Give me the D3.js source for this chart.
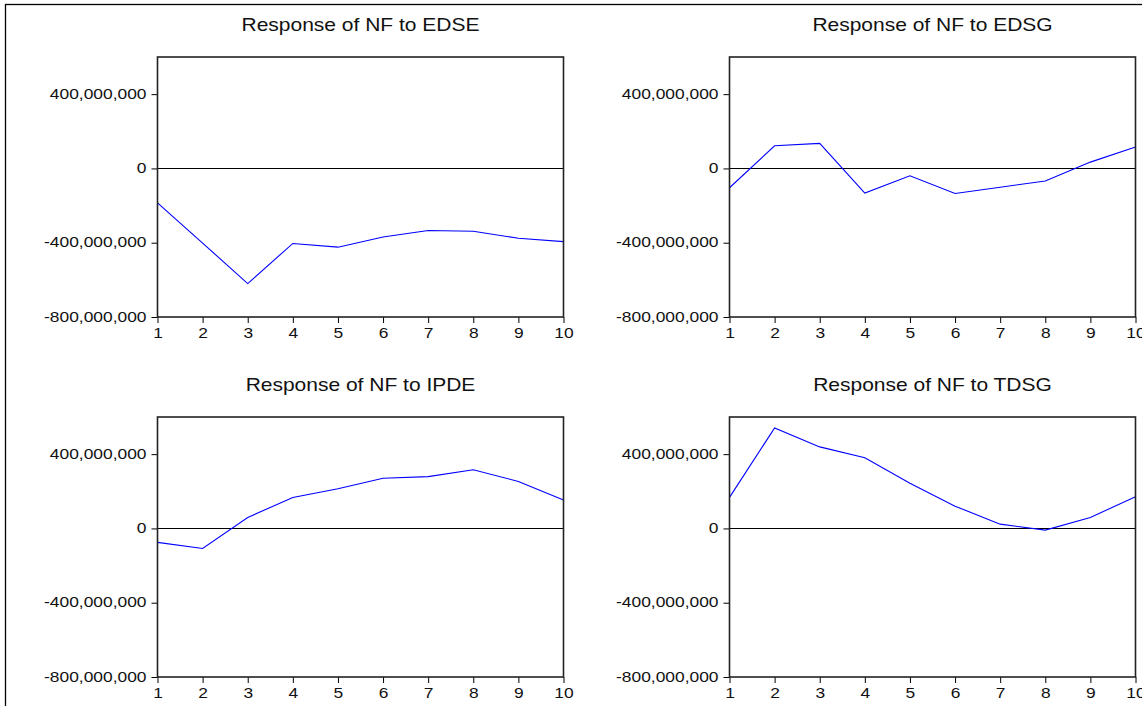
<!DOCTYPE html>
<html>
<head>
<meta charset="utf-8">
<script src="https://cdn.jsdelivr.net/npm/d3@7"></script>
<style>
  html, body { margin: 0; padding: 0; background: #fff; }
  svg { display: block; }
  text { font-family: "Liberation Sans", Arial, sans-serif; fill: #111; }
</style>
</head>
<body>
<svg id="chart" width="1142" height="706"></svg>
<script>
// Impulse responses of NF over a 10-period horizon
const periods = [1, 2, 3, 4, 5, 6, 7, 8, 9, 10];
const shockEDSE = [-185e6, -402e6, -620e6, -404e6, -424e6, -369e6, -334e6, -338e6, -376e6, -394e6];
const shockEDSG = [-104e6, 122e6, 135e6, -133e6, -40e6, -135e6, -101e6, -68e6, 34e6, 115e6];
const shockIPDE = [-75e6, -108e6, 59e6, 167e6, 214e6, 270e6, 279e6, 316e6, 253e6, 153e6];
const shockTDSG = [167e6, 541e6, 439e6, 381e6, 243e6, 120e6, 23e6, -9e6, 59e6, 171e6];
const panelTitles = ["Response of NF to EDSE", "Response of NF to EDSG",
                     "Response of NF to IPDE", "Response of NF to TDSG"];
const yTickValues = [-800e6, -400e6, 0, 400e6];
const yDomain = [-800e6, 600e6];

const panels = [
  { title: panelTitles[0], values: shockEDSE, col: 0, row: 0 },
  { title: panelTitles[1], values: shockEDSG, col: 1, row: 0 },
  { title: panelTitles[2], values: shockIPDE, col: 0, row: 1 },
  { title: panelTitles[3], values: shockTDSG, col: 1, row: 1 }
];

const svg = d3.select("#chart");
const stretch = 1.2;               // wide-set lettering
const colLeft = [157.5, 729.5];
const rowTop = [57, 417];
const plotW = 406, plotH = 260;

const fmt = v => d3.format(",")(v).replace("\u2212", "-");

// outer frame around the whole figure
svg.append("rect")
  .attr("x", 5.5).attr("y", 4.5)
  .attr("width", 1200).attr("height", 800)
  .attr("fill", "none").attr("stroke", "#000").attr("stroke-width", 1.3);

panels.forEach(p => {
  const x0 = colLeft[p.col], y0 = rowTop[p.row];
  const g = svg.append("g").attr("transform", `translate(${x0},${y0})`);

  const x = d3.scaleLinear().domain([1, 10]).range([0, plotW]);
  const y = d3.scaleLinear().domain(yDomain).range([plotH, 0]);

  // title
  g.append("text")
    .attr("transform", `translate(${plotW / 2},-26) scale(${stretch},1)`)
    .attr("text-anchor", "middle")
    .style("font-size", "17.5px")
    .text(p.title);

  // zero reference line
  g.append("line")
    .attr("x1", 0).attr("x2", plotW)
    .attr("y1", Math.round(y(0)) + 0.5).attr("y2", Math.round(y(0)) + 0.5)
    .attr("stroke", "#000").attr("stroke-width", 1);

  // y axis
  const yAxis = g.append("g")
    .call(d3.axisLeft(y).tickValues(yTickValues).tickFormat(fmt).tickSize(6).tickPadding(5));
  // x axis
  const xAxis = g.append("g")
    .attr("transform", `translate(0,${plotH})`)
    .call(d3.axisBottom(x).tickValues(periods).tickFormat(d3.format("d")).tickSize(6).tickPadding(4));

  [yAxis, xAxis].forEach(ax => {
    ax.select(".domain").remove();
    ax.selectAll(".tick line").attr("stroke", "#000");
    ax.selectAll(".tick text")
      .style("font-size", "14.5px")
      .attr("fill", "#111")
      .each(function () {
        const t = d3.select(this);
        const tx = +t.attr("x") || 0;
        t.attr("x", tx / stretch).attr("transform", `scale(${stretch},1)`);
      });
  });
  yAxis.selectAll(".tick text").attr("dy", "0.28em");
  xAxis.selectAll(".tick text").attr("dy", "0.78em");

  // response path
  const line = d3.line().x((d, i) => x(periods[i])).y(d => y(d));
  g.append("path")
    .datum(p.values)
    .attr("d", line)
    .attr("fill", "none")
    .attr("stroke", "#0000ff")
    .attr("stroke-width", 1.1);

  // plot frame
  g.append("rect")
    .attr("x", 0).attr("y", 0)
    .attr("width", plotW).attr("height", plotH)
    .attr("fill", "none").attr("stroke", "#222").attr("stroke-width", 1.6);
});
</script>
</body>
</html>
